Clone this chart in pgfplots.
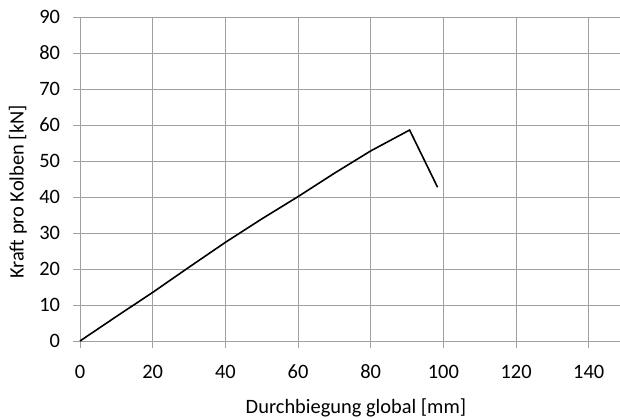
\documentclass[border=0pt]{standalone}
\usepackage{pgfplots}
\pgfplotsset{compat=1.18}
\usepackage{fontspec}
\setmainfont{Carlito}
\definecolor{gridgray}{RGB}{160,160,160}
\begin{document}
\begin{tikzpicture}
\begin{axis}[
  scale only axis,
  width=540bp, height=324bp,
  xmin=0, xmax=148.6, ymin=0, ymax=90,
  xtick={0,20,...,140}, ytick={0,10,...,90},
  grid=major,
  grid style={gridgray, line width=0.8bp},
  axis line style={draw=none},
  tick align=outside,
  major tick length=6.5bp,
  tick style={gridgray, line width=0.8bp},
  xtick pos=bottom, ytick pos=left,
  /pgf/number format/assume math mode=true,
  tick label style={font=\fontsize{20.5}{24}\selectfont, black},
  label style={font=\fontsize{20.5}{24}\selectfont},
  xticklabel style={anchor=base, yshift=-31bp},
  yticklabel style={anchor=east, xshift=-10bp},
  xlabel={Durchbiegung global [mm]},
  ylabel={Kraft pro Kolben [kN]},
  xlabel style={at={(axis description cs:0.511,0)}, anchor=base, yshift=-72bp},
  ylabel style={at={(axis description cs:0,0.46)}, anchor=center, yshift=62bp},
  clip=false,
]
\addplot[black, line width=1.6bp, line join=miter] coordinates {
(0,0) (10,6.8) (20,13.5) (30,20.5) (40,27.4) (50,33.9) (60,40.1) (70,46.6) (80,52.8) (90.7,58.6) (98.4,42.7)
};
\end{axis}
\pgfresetboundingbox
\path[use as bounding box] (-80bp,-78bp) rectangle (540bp,341bp);
\end{tikzpicture}
\end{document}
